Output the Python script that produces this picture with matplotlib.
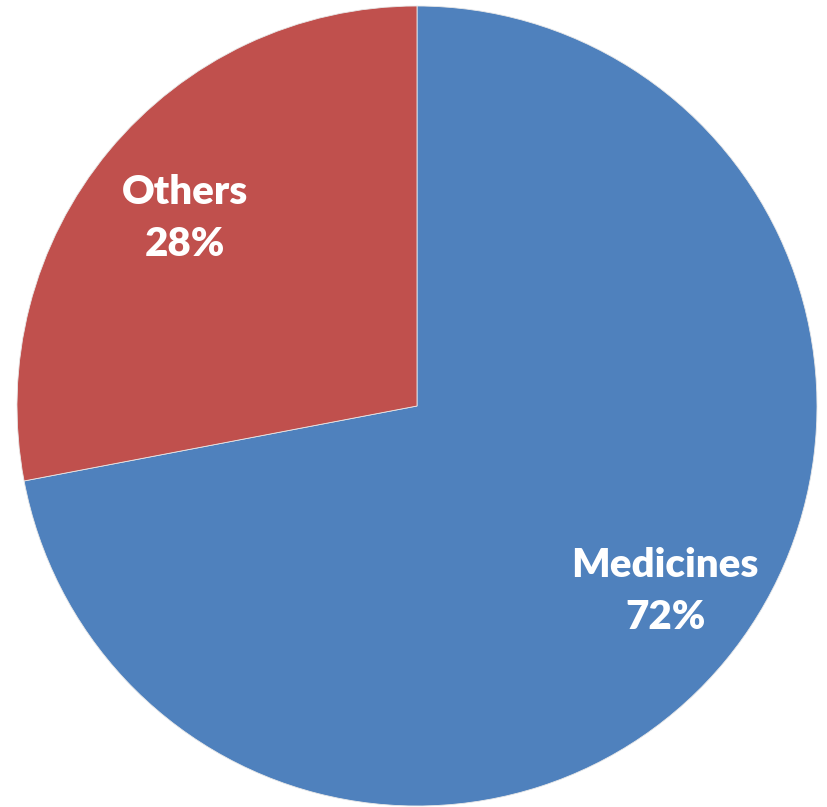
import matplotlib
matplotlib.use("Agg")
import matplotlib.pyplot as plt
import numpy as np

categories = ["Medicines", "Others"]
values = [72, 28]
colors = ["#4F81BD", "#C0504D"]

W, H = 827, 807
fig = plt.figure(figsize=(W / 100, H / 100), dpi=100)
cx, cy, r = 417, 406, 400
ax = fig.add_axes([(cx - r) / W, (H - cy - r) / H, 2 * r / W, 2 * r / H])

wedges, _ = ax.pie(values, colors=colors, startangle=90, counterclock=False,
                   radius=1.0, wedgeprops=dict(linewidth=0.6, edgecolor="#e8e8e8"))

total = sum(values)
offsets = {"Medicines": (0.035, 0.02), "Others": (0.005, -0.015)}
for w, name, v in zip(wedges, categories, values):
    ang = np.deg2rad((w.theta1 + w.theta2) / 2)
    d = 0.76
    ox, oy = offsets[name]
    ax.text(d * np.cos(ang) + ox, d * np.sin(ang) + oy,
            f"{name}\n{round(v / total * 100)}%",
            ha="center", va="center", color="white", fontsize=29,
            fontweight="heavy", family=["Lato", "DejaVu Sans"], linespacing=1.5)

ax.set_xlim(-1, 1)
ax.set_ylim(-1, 1)
ax.set_aspect("equal")
ax.axis("off")
fig.savefig("out.png", dpi=100, facecolor="white")
